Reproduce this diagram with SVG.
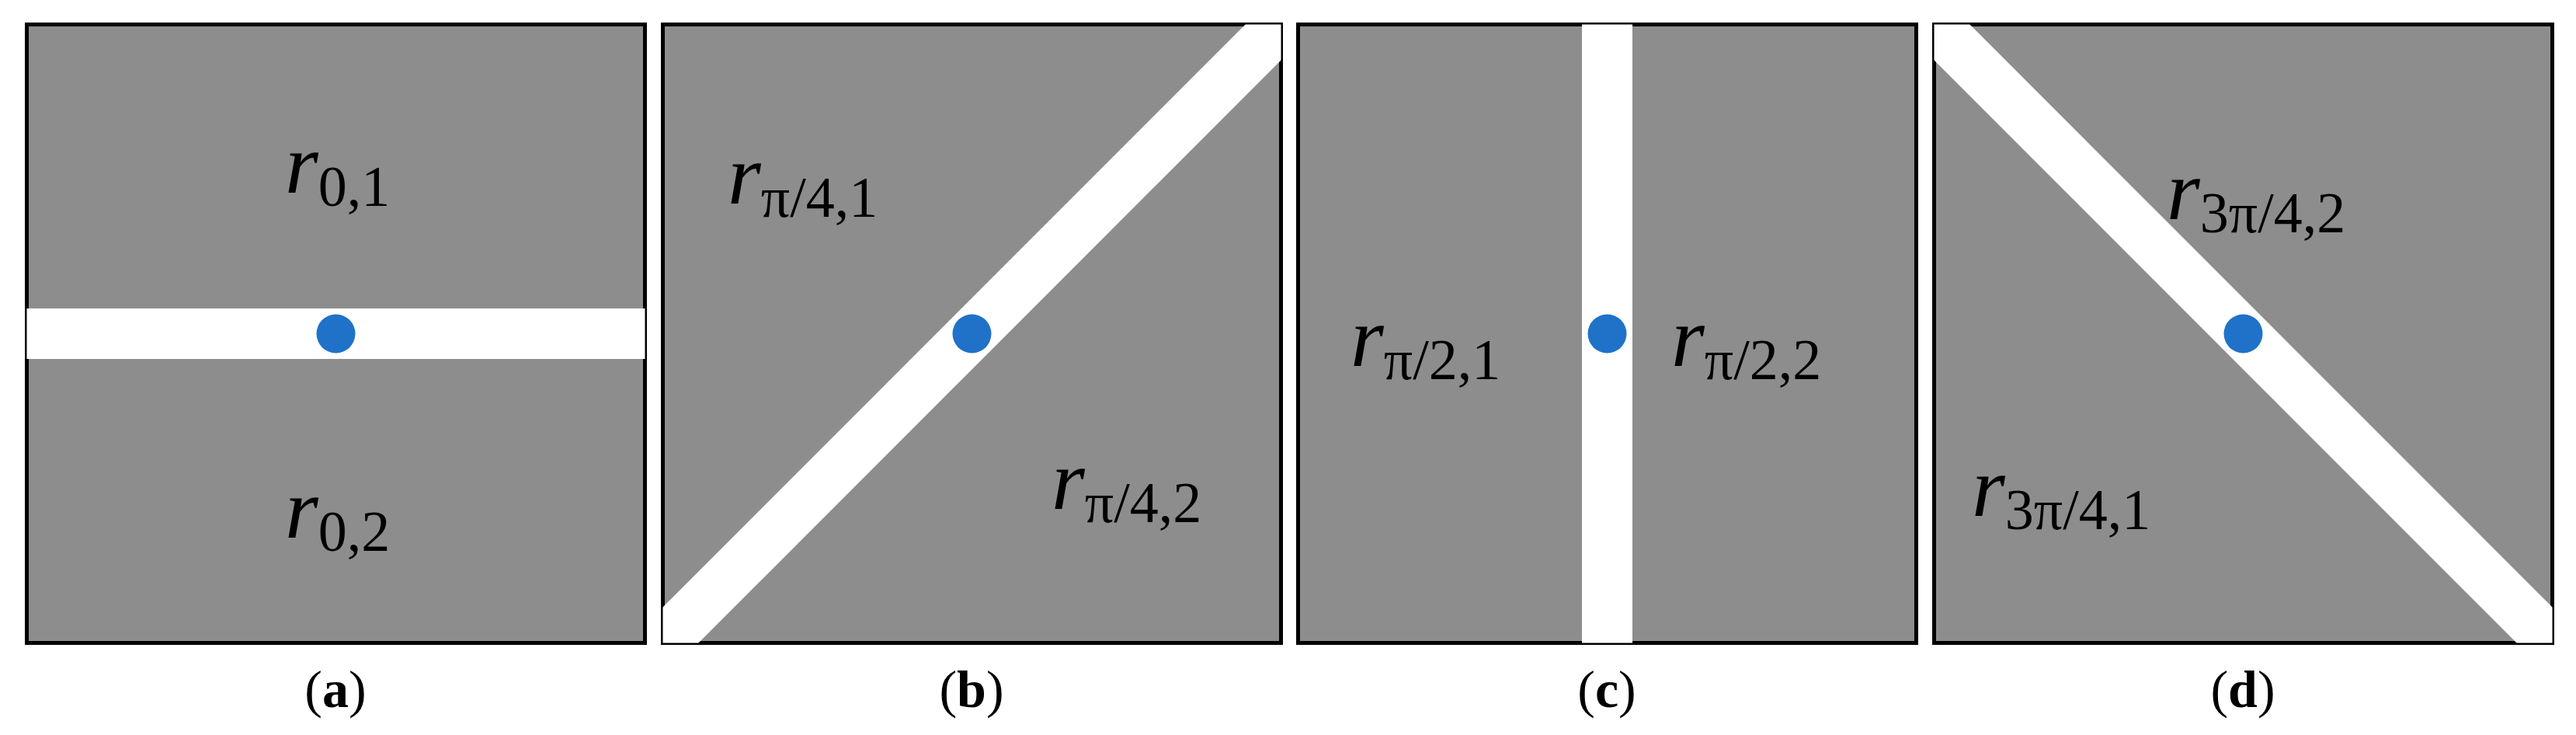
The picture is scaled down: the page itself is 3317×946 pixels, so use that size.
<svg xmlns="http://www.w3.org/2000/svg" width="3317" height="946" viewBox="0 0 3317 946">
<style>
.panel{fill:#8d8d8d;stroke:#000;stroke-width:5}
.band{stroke:#fff;stroke-width:65;fill:none}
.dot{fill:#1f72c8}
.lbl{font-family:"Liberation Serif",serif;fill:#000}
.r{font-style:italic;font-size:110px}
.s{font-size:74px}
.cap{font-family:"Liberation Serif",serif;font-size:68px;fill:#000;text-anchor:middle}
.b{font-weight:bold}
</style>
<defs>
<clipPath id="ca"><rect x="34.5" y="31.5" width="796" height="796"/></clipPath>
<clipPath id="cb"><rect x="853.5" y="31.5" width="796" height="796"/></clipPath>
<clipPath id="cc"><rect x="1671.5" y="31.5" width="796" height="796"/></clipPath>
<clipPath id="cd"><rect x="2490.5" y="31.5" width="796" height="796"/></clipPath>
</defs>
<g id="panel-a">
<rect class="panel" x="34.5" y="31.5" width="796" height="796"/>
<line class="band" clip-path="url(#ca)" x1="30" y1="429.5" x2="835" y2="429.5"/>
<circle class="dot" cx="432.5" cy="429.5" r="25"/>
<text class="lbl" x="367" y="248"><tspan class="r">r</tspan><tspan class="s" dy="17">0,1</tspan></text>
<text class="lbl" x="367" y="692"><tspan class="r">r</tspan><tspan class="s" dy="17">0,2</tspan></text>
<text class="cap" x="432" y="910">(<tspan class="b">a</tspan>)</text>
</g>
<g id="panel-b">
<rect class="panel" x="853.5" y="31.5" width="796" height="796"/>
<line class="band" clip-path="url(#cb)" x1="830" y1="851" x2="1673" y2="8"/>
<circle class="dot" cx="1251.5" cy="429.5" r="25"/>
<text class="lbl" x="937" y="262"><tspan class="r">r</tspan><tspan class="s" dy="17">π/4,1</tspan></text>
<text class="lbl" x="1354" y="655"><tspan class="r">r</tspan><tspan class="s" dy="17">π/4,2</tspan></text>
<text class="cap" x="1251" y="910">(<tspan class="b">b</tspan>)</text>
</g>
<g id="panel-c">
<rect class="panel" x="1671.5" y="31.5" width="796" height="796"/>
<line class="band" clip-path="url(#cc)" x1="2069.5" y1="25" x2="2069.5" y2="835"/>
<circle class="dot" cx="2069.5" cy="429.5" r="25"/>
<text class="lbl" x="1739" y="471"><tspan class="r">r</tspan><tspan class="s" dy="17">π/2,1</tspan></text>
<text class="lbl" x="2152" y="471"><tspan class="r">r</tspan><tspan class="s" dy="17">π/2,2</tspan></text>
<text class="cap" x="2069" y="910">(<tspan class="b">c</tspan>)</text>
</g>
<g id="panel-d">
<rect class="panel" x="2490.5" y="31.5" width="796" height="796"/>
<line class="band" clip-path="url(#cd)" x1="2467" y1="8" x2="3310" y2="851"/>
<circle class="dot" cx="2888.5" cy="429.5" r="25"/>
<text class="lbl" x="2790" y="282"><tspan class="r">r</tspan><tspan class="s" dy="17">3π/4,2</tspan></text>
<text class="lbl" x="2539" y="664"><tspan class="r">r</tspan><tspan class="s" dy="17">3π/4,1</tspan></text>
<text class="cap" x="2888" y="910">(<tspan class="b">d</tspan>)</text>
</g>
<g id="connectors"/>
</svg>
